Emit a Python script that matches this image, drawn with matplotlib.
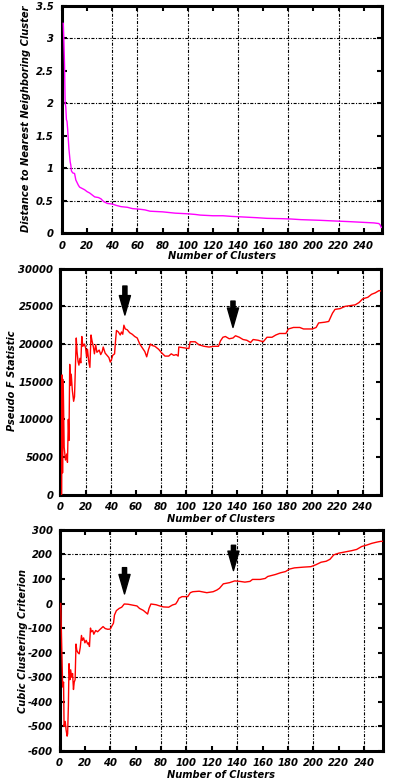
import matplotlib
matplotlib.use('Agg')
import matplotlib.pyplot as plt

plt.rcParams['font.family'] = ['DejaVu Sans']
plt.rcParams['font.weight'] = 'bold'
plt.rcParams['font.style'] = 'italic'
plt.rcParams['lines.scale_dashes'] = False

# ---------------- data ----------------
x_ticks = [0, 20, 40, 60, 80, 100, 120, 140, 160, 180, 200, 220, 240]

dist_clusters = [1, 1.5, 2, 2.5, 3, 3.5, 4, 4.5, 5, 5.5, 6, 6.5, 7, 7.5, 8.5, 10,
                 11, 12, 13, 14, 16, 18, 20, 22, 24, 26, 29, 31, 33, 36, 40, 43,
                 47, 52, 56, 62, 66, 70, 80, 90, 100, 106, 110, 120, 128, 135,
                 145, 155, 163, 175, 182, 190, 205, 216, 228, 238, 248, 252, 253, 254]
dist_values = [3.23, 2.95, 2.6, 2.0, 1.95, 1.75, 1.72, 1.6, 1.45, 1.3, 1.2, 1.1,
               1.05, 0.96, 0.93, 0.92, 0.82, 0.78, 0.74, 0.71, 0.69, 0.67, 0.64,
               0.62, 0.59, 0.56, 0.55, 0.53, 0.49, 0.46, 0.45, 0.43, 0.41, 0.40,
               0.38, 0.37, 0.36, 0.34, 0.33, 0.31, 0.30, 0.29, 0.28, 0.27, 0.27,
               0.26, 0.25, 0.24, 0.23, 0.225, 0.22, 0.21, 0.20, 0.19, 0.18, 0.17,
               0.16, 0.15, 0.13, 0.09]

psf_clusters = [1, 1.3, 1.7, 2.2, 3, 4, 5, 5.6, 6.3, 6.8, 7.4, 8, 8.6, 9.5, 10.5,
                11.2, 11.8, 12.6, 13.2, 14, 14.7, 15.5, 16.2, 17, 17.8, 19, 20,
                20.8, 21.5, 22.4, 23.4, 24.3, 25, 26.2, 27, 28, 29, 30.8, 32, 33.2,
                34, 35.5, 37, 38.5, 39.6, 40.5, 41.5, 43, 43.8, 44.5, 46, 47.5,
                48.5, 49.5, 50.4, 51.5, 53, 55, 57, 59, 61, 63, 65, 67, 68.5, 70,
                71.5, 73, 75, 78, 80, 83, 86, 88, 90, 92, 93.5, 94, 98, 102, 103,
                107, 110, 114, 118, 122, 125.5, 127, 129, 131, 134, 137, 139, 142,
                145, 148, 151, 153, 157, 161, 164, 168, 171, 174, 179, 181, 185,
                190, 193, 200, 203, 205, 210, 213, 216, 218, 222, 226, 230, 234,
                237, 240, 244, 247, 250, 253, 255]
psf_values = [0, 15900, 2900, 15300, 6300, 4600, 5400, 4300, 10000, 7200, 17300,
              14500, 16000, 13800, 12400, 13000, 16300, 20800, 19000, 17700, 17200,
              18100, 17500, 21000, 19700, 20000, 19500, 18300, 19300, 17800, 16900,
              21200, 20500, 19600, 18700, 19900, 18900, 19200, 18600, 19000, 19600,
              18800, 18500, 18200, 17600, 17900, 18500, 18700, 20500, 21800, 21600,
              21200, 21600, 21300, 22500, 22000, 21900, 21500, 21300, 21000, 20800,
              20000, 19500, 19000, 18300, 19300, 20000, 19800, 19700, 19300, 18900,
              18400, 18400, 18700, 18500, 18600, 18400, 19600, 19500, 19400, 20300,
              20300, 19900, 19700, 19600, 19700, 19700, 20400, 20900, 21000, 20700,
              20800, 21100, 20900, 20600, 20500, 20200, 20600, 20500, 20300, 20900,
              20900, 21200, 21400, 21400, 22000, 22200, 22200, 22000, 22000, 22200,
              22800, 22900, 23000, 24100, 24600, 24700, 25000, 25100, 25200, 25500,
              26000, 26200, 26600, 26800, 27100, 27000]

ccc_clusters = [1, 1.3, 2, 2.5, 3.2, 3.6, 4.5, 5.2, 6, 6.4, 7, 7.5, 8.2, 8.8, 9.5,
                10.3, 11, 11.6, 12.3, 13, 13.6, 14.5, 15.5, 16.3, 17.3, 18, 19, 20,
                21, 22.2, 23, 23.6, 24.4, 25, 26.2, 27, 28.5, 30, 32, 34.3, 36, 38,
                40, 41, 42.5, 43.3, 44.8, 47, 49, 51, 54, 57, 61, 63, 66, 69.4, 70.5,
                72, 76, 79, 82, 86, 89, 91.5, 93, 94, 96.5, 101, 103, 105, 110, 116,
                121, 124, 126, 129, 134, 138, 142, 146, 150, 152, 158, 162, 164, 170,
                174, 178, 181, 185, 192, 198, 202, 206, 210, 213, 216, 220, 225, 230,
                234, 238, 242, 246, 250, 253, 255]
ccc_values = [0, -80, -230, -340, -320, -500, -480, -515, -540, -530, -415, -245,
              -310, -270, -300, -285, -350, -320, -310, -165, -190, -200, -205, -180,
              -130, -150, -140, -160, -150, -165, -160, -175, -100, -115, -110, -125,
              -110, -115, -105, -94, -102, -105, -104, -94, -80, -47, -29, -20, -15,
              -2, -3, -6, -10, -20, -28, -43, -20, -2, -5, -10, -14, -15, -6, -2, 10,
              21, 28, 28, 44, 48, 50, 44, 48, 55, 62, 80, 85, 92, 90, 87, 90, 98, 98,
              102, 110, 118, 125, 130, 140, 145, 148, 150, 158, 168, 172, 180, 198,
              205, 210, 215, 220, 232, 238, 245, 250, 253, 253]

arrow_clusters = [51.2, 137]
psf_arrow_tail = [27700, 25700]
psf_arrow_tip = [23850, 22200]
ccc_arrow_tail = [146, 237]
ccc_arrow_tip = [39, 134]

# ---------------- figure ----------------
W, H = 397, 783
fig = plt.figure(figsize=(W / 100, H / 100), dpi=100)


def px_axes(left, right, top, bottom):
    return fig.add_axes([left / W, 1 - bottom / H, (right - left) / W, (bottom - top) / H])


ax1 = px_axes(62, 382, 5.8, 233.3)
ax2 = px_axes(60.4, 381, 268.7, 494.7)
ax3 = px_axes(59.5, 383.3, 529.8, 750.9)

grid_dash = (0, (2.2, 1.1, 0.8, 1.1))
LABEL_FS = 7.1
TICK_FS = 7.2


def style(ax, ylim, yticks, yticklabels, vgrid, hgrid, xmax, ypad):
    ax.set_xlim(0, xmax)
    ax.set_ylim(*ylim)
    ax.set_xticks(x_ticks)
    ax.set_xticklabels([str(t) for t in x_ticks])
    ax.set_yticks(yticks)
    ax.set_yticklabels(yticklabels)
    for s in ax.spines.values():
        s.set_linewidth(2.2)
        s.set_color('black')
    ax.tick_params(axis='both', which='both', direction='in', length=3.5,
                   width=1.5, top=True, right=True, labelsize=TICK_FS, colors='black')
    ax.tick_params(axis='x', pad=5.2)
    ax.tick_params(axis='y', pad=ypad)
    for v in vgrid:
        ax.axvline(v, color='black', lw=0.8, linestyle=grid_dash, zorder=1)
    for h in hgrid:
        ax.axhline(h, color='black', lw=0.8, linestyle=grid_dash, zorder=1)
    for lab in ax.get_xticklabels() + ax.get_yticklabels():
        lab.set_fontweight('bold')
        lab.set_fontstyle('italic')


def labels(ax, ylab, ycoords, xcoords):
    ax.set_ylabel(ylab, fontsize=LABEL_FS, fontweight='bold',
                  fontstyle='italic', va='center')
    ax.yaxis.set_label_coords(*ycoords)
    ax.set_xlabel('Number of Clusters', fontsize=LABEL_FS, fontweight='bold',
                  fontstyle='italic', va='center')
    ax.xaxis.set_label_coords(*xcoords)


# Panel 1
ax1.plot(dist_clusters, dist_values, color='#ff00ff', lw=1.0, zorder=3)
yt1 = [0, 0.5, 1, 1.5, 2, 2.5, 3, 3.5]
style(ax1, (0, 3.5), yt1, ['0', '0.5', '1', '1.5', '2', '2.5', '3', '3.5'],
      [40, 60, 100, 140, 180, 220], [0.5, 1, 2, 3], 254.5, 6)
labels(ax1, 'Distance to Nearest Neighboring Cluster', (-0.113, 0.502), (0.5, -0.101))

# Panel 2
ax2.plot(psf_clusters, psf_values, color='#ff0000', lw=1.0, zorder=3)
yt2 = [0, 5000, 10000, 15000, 20000, 25000, 30000]
style(ax2, (0, 30000), yt2, [str(v) for v in yt2],
      [20, 40, 80, 100, 120, 160, 180, 200, 240], [20000, 25000], 254.5, 5)
labels(ax2, 'Pseudo F Statistic', (-0.151, 0.504), (0.5, -0.1075))

# Panel 3
ax3.plot(ccc_clusters, ccc_values, color='#ff0000', lw=1.0, zorder=3)
yt3 = [-600, -500, -400, -300, -200, -100, 0, 100, 200, 300]
style(ax3, (-600, 300), yt3, [str(v) for v in yt3],
      [40, 80, 100, 140, 180, 200, 240], [200, -300, -500], 255, 5)
labels(ax3, 'Cubic Clustering Criterion', (-0.114, 0.498), (0.5, -0.109))

arrow_style = 'simple,head_length=14,head_width=8,tail_width=3'
for ax, tails, tips in [(ax2, psf_arrow_tail, psf_arrow_tip),
                        (ax3, ccc_arrow_tail, ccc_arrow_tip)]:
    for xc, yt, yh in zip(arrow_clusters, tails, tips):
        ax.annotate('', xy=(xc, yh), xytext=(xc, yt),
                    arrowprops=dict(arrowstyle=arrow_style, color='black',
                                    mutation_scale=1, shrinkA=0, shrinkB=0),
                    zorder=5)

fig.savefig('out.png', dpi=100, facecolor='white')
